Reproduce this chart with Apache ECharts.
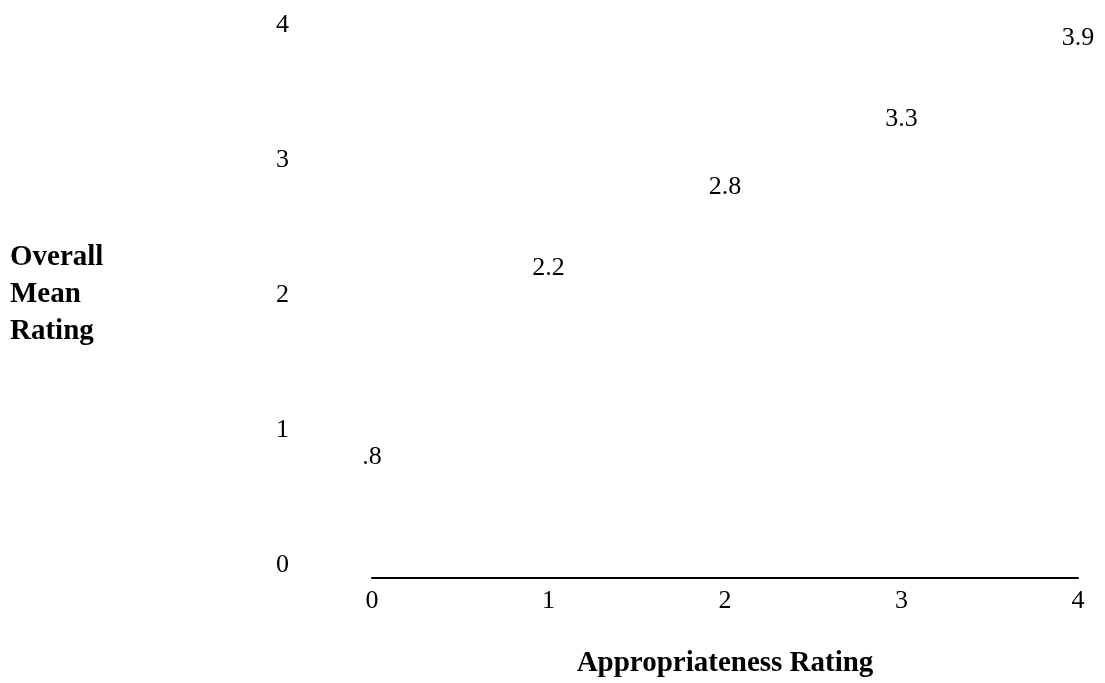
<!DOCTYPE html>
<html>
<head>
<meta charset="utf-8">
<script src="https://cdn.jsdelivr.net/npm/echarts@6/dist/echarts.min.js"></script>
<style>html,body{margin:0;padding:0;background:#fff}#c{width:1105px;height:683px}</style>
</head>
<body>
<div id="c"></div>
<script>
const appropriateness = [0, 1, 2, 3, 4];
const overallMean = [0.8, 2.2, 2.8, 3.3, 3.9];
const yTicks = [0, 1, 2, 3, 4];
const xTitle = 'Appropriateness Rating';
const yTitle = 'Overall\nMean\nRating';

const font = '"Liberation Serif", "Times New Roman", serif';
const chart = echarts.init(document.getElementById('c'));
chart.setOption({
  backgroundColor: '#fff',
  animation: false,
  grid: { left: 372, right: 27, top: 25, bottom: 118 },
  xAxis: {
    type: 'value', min: 0, max: 4, interval: 1, offset: 13,
    axisLine: { show: true, onZero: false, lineStyle: { color: '#000', width: 2 } },
    axisTick: { show: false }, splitLine: { show: false },
    axisLabel: { color: '#000', fontFamily: font, fontSize: 26, margin: 10 },
    name: xTitle, nameLocation: 'middle', nameGap: 71,
    nameTextStyle: { color: '#000', fontFamily: font, fontSize: 29, fontWeight: 'bold' }
  },
  yAxis: {
    type: 'value', min: yTicks[0], max: yTicks[yTicks.length - 1], interval: 1,
    axisLine: { show: false }, axisTick: { show: false }, splitLine: { show: false },
    axisLabel: { color: '#000', fontFamily: font, fontSize: 26, margin: 83 },
    name: yTitle, nameLocation: 'middle', nameRotate: 0, nameGap: 362,
    nameTextStyle: { color: '#000', fontFamily: font, fontSize: 29, fontWeight: 'bold', align: 'left', lineHeight: 37 }
  },
  series: [{
    type: 'scatter',
    data: appropriateness.map((x, i) => [x, overallMean[i]]),
    symbolSize: 1,
    itemStyle: { color: '#fff', opacity: 1 },
    emphasis: { disabled: true },
    label: {
      show: true, position: 'inside', color: '#000', opacity: 1,
      textBorderWidth: 0, fontFamily: font, fontSize: 26,
      formatter: p => String(p.value[1]).replace(/^0\./, '.')
    }
  }]
});
</script>
</body>
</html>
